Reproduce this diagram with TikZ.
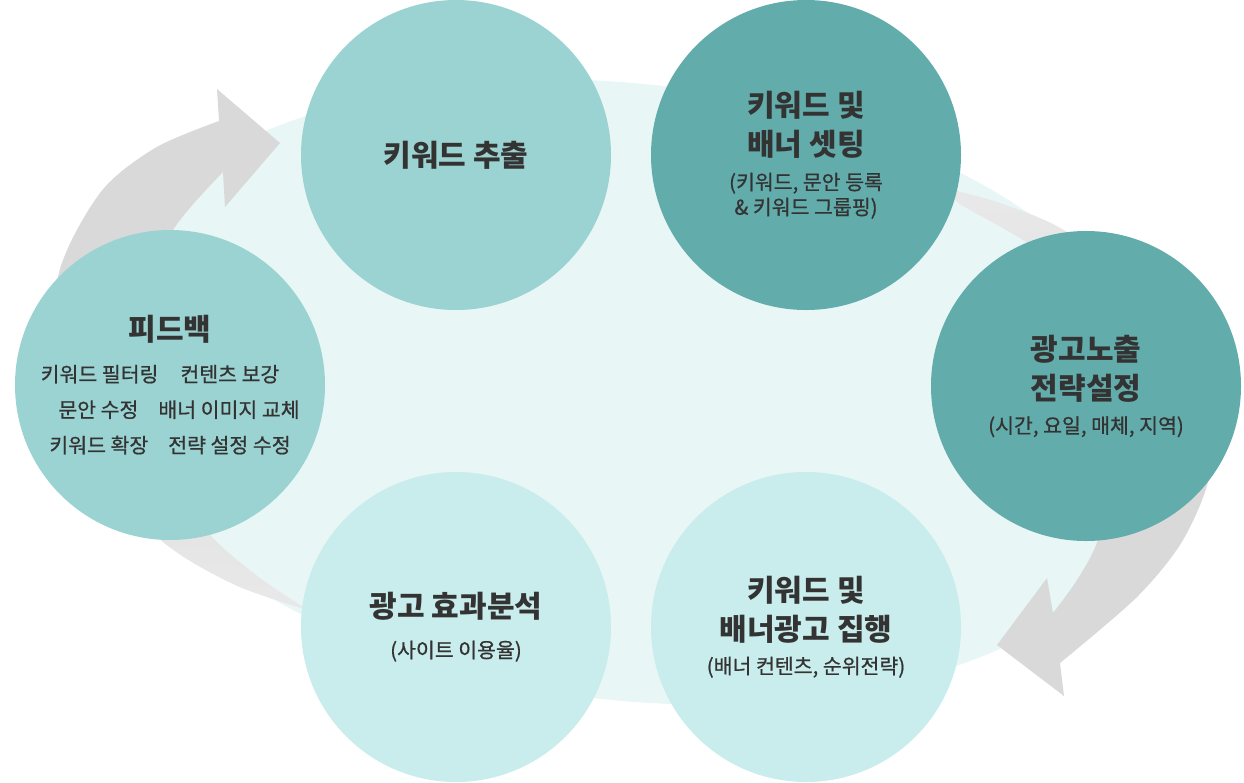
\documentclass[tikz,border=0pt]{standalone}
\usepackage{fontspec}
\setmainfont{Noto Sans CJK KR}
\newfontfamily\subfamily{Noto Sans CJK KR}[FakeBold=0.7]
\usepackage{xcolor}
\usepackage{tikz}

\definecolor{darkteal}{HTML}{62ACAB}
\definecolor{midteal}{HTML}{9BD3D2}
\definecolor{lightteal}{HTML}{C8EDEC}
\definecolor{bgteal}{HTML}{E8F6F6}
\definecolor{arrowgray}{HTML}{D9D9D9}
\definecolor{tailgray}{HTML}{EEEEEE}
\definecolor{textgray}{HTML}{333333}

\newcommand{\bubtitle}{\fontsize{30}{34}\rmfamily\selectfont\bfseries}
\newcommand{\bubsub}{\fontsize{20.5}{25}\subfamily\selectfont}

\pgfdeclareverticalshading{arrowfade}{100bp}{color(0bp)=(tailgray); color(15bp)=(tailgray); color(55bp)=(arrowgray); color(100bp)=(arrowgray)}

\begin{document}
\begin{tikzpicture}[
  x=1pt,
  y=-1pt,
  bubble/.style={circle, minimum size=310pt, inner sep=0pt, align=center, text=textgray, font=\bubsub},
  darkbubble/.style={bubble, fill=darkteal},
  midbubble/.style={bubble, fill=midteal},
  lightbubble/.style={bubble, fill=lightteal},
  cyclearrow/.style={shading=arrowfade}
]
\useasboundingbox (0,0) rectangle (1244,782);

% background ellipse
\fill[bgteal, rotate around={-6.7:(628,392)}] (628,392) ellipse [x radius=550, y radius=308];

% left arrow (feedback -> extraction)
\shade[cyclearrow]
  plot[smooth] coordinates {(308,610) (235,585) (163,542) (100,470) (64,380) (58,277) (100,193) (155,148) (219,121)}
  -- (217,89) -- (280,143) -- (225,207) -- (223,172)
  -- plot[smooth] coordinates {(223,172) (175,227) (140,300) (140,400) (170,480) (212,537) (260,578) (308,610)}
  -- cycle;

% right arrow (exposure -> execution)
\shade[cyclearrow, shading angle=180]
  plot[smooth] coordinates {(945,188) (1000,203) (1067,232) (1150,300) (1205,400) (1210,473) (1183,540) (1137,597) (1060,663)}
  -- (1064,696) -- (997,645) -- (1047,578) -- (1053,613)
  -- plot[smooth] coordinates {(1053,613) (1077,580) (1098,540) (1125,450) (1115,350) (1075,280) (1023,240) (960,204) (945,188)}
  -- cycle;

% steps
\node[midbubble] (extract) at (456,155) {\bubtitle 키워드 추출};
\node[darkbubble] (setting) at (806,155)
  {{\bubtitle 키워드 및}\\[10pt]{\bubtitle 배너 셋팅}\\[9pt](키워드, 문안 등록\\\& 키워드 그룹핑)};
\node[darkbubble] (exposure) at (1086,386)
  {{\bubtitle 광고노출}\\[10pt]{\bubtitle 전략설정}\\[9pt](시간, 요일, 매체, 지역)};
\node[lightbubble] (execute) at (806,627)
  {{\bubtitle 키워드 및}\\[10pt]{\bubtitle 배너광고 집행}\\[8pt](배너 컨텐츠, 순위전략)};
\node[lightbubble] (analysis) at (456,627)
  {{\bubtitle 광고 효과분석}\\[15pt](사이트 이용율)};
\node[midbubble] (feedback) at (170,385)
  {{\bubtitle 피드백}\\[16pt]키워드 필터링\hspace{22pt}컨텐츠 보강\rule{20pt}{0pt}\\[10.5pt]\rule{18pt}{0pt}문안 수정\hspace{20pt}배너 이미지 교체\\[10.5pt]키워드 확장\hspace{20pt}전략 설정 수정};
\end{tikzpicture}
\end{document}
